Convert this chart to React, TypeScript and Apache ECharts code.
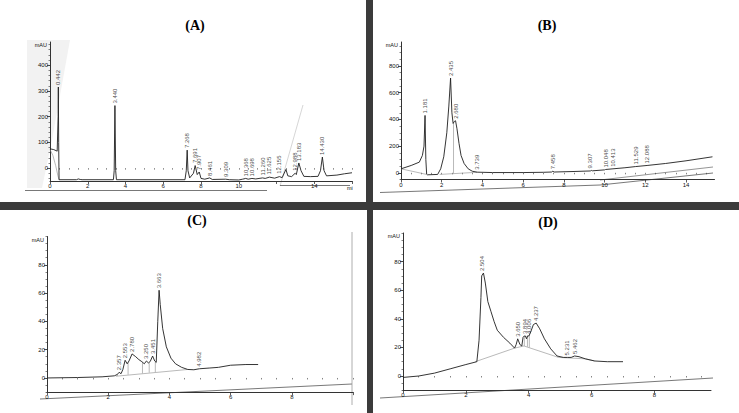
import React, { useEffect, useRef } from "react";
import * as echarts from "echarts";

// ---------------- Panel (A) ----------------
const curveA: [number, number][] = [
  [0, 75], [0.2, 72], [0.38, 66], [0.4, 65], [0.43, 200], [0.442, 315], [0.46, 100], [0.48, -45],
  [1.4, -45], [1.5, -42], [1.6, -44], [1.7, -45], [3.36, -45], [3.4, -10], [3.44, 243], [3.48, -10], [3.52, -45],
  [7.15, -45], [7.22, -10], [7.268, 70], [7.31, -10], [7.4, -38], [7.6, -20], [7.691, 10], [7.8, -25],
  [7.907, -15], [8.0, -40], [8.2, -43], [8.461, -38], [8.6, -44], [9.309, -43], [9.5, -45], [10.0, -46],
  [10.2, -43], [10.368, -40], [10.5, -43], [10.698, -40], [10.9, -42], [11.26, -38], [11.4, -40],
  [11.625, -35], [11.9, -39], [12.155, -33], [12.3, -37], [12.5, -5], [12.6, -30], [12.8, -33],
  [12.988, -20], [13.05, -25], [13.183, 20], [13.3, -10], [13.45, -32], [13.8, -33], [14.2, -32],
  [14.33, -10], [14.43, 43], [14.52, -10], [14.65, -30], [15.2, -27], [15.6, -22], [16, -18],
];
const baseA: ([number, number] | null)[] = [[0, 72], [0.15, 50], [0.3, 10], [0.42, -30], [0.48, -45]];
const peakRtA = ["0.442", "3.440", "7.268", "7.691", "7.907", "8.461", "9.309", "10.368", "10.698", "11.260", "11.625", "12.155", "12.988", "13.183", "14.430"];
const peakHA = [315, 243, 70, 12, -15, -38, -42, -40, -40, -36, -33, -30, -18, 20, 43];
const xTicksA = [0, 2, 4, 6, 8, 10, 14];
const yTicksA = [0, 100, 200, 300, 400];

// ---------------- Panel (B) ----------------
const curveB: [number, number][] = [
  [0, 30], [0.5, 55], [0.9, 80], [1.05, 130], [1.13, 200], [1.181, 430], [1.22, 100], [1.26, -10],
  [1.3, -15], [1.8, -12], [1.95, 30], [2.1, 120], [2.25, 300], [2.35, 500], [2.435, 710], [2.5, 450],
  [2.56, 370], [2.62, 385], [2.68, 390], [2.75, 330], [2.85, 220], [2.95, 130], [3.1, 70], [3.3, 30],
  [3.5, 12], [3.739, 5], [4.5, 2], [6.0, 2], [7.0, 4], [7.4, 6], [7.458, 12], [7.52, 6], [8.5, 10],
  [9.3, 14], [9.35, 18], [9.4, 15], [10.0, 22], [10.048, 25], [10.413, 30], [11, 38], [11.529, 47],
  [12.088, 55], [13, 70], [14, 90], [15.3, 120],
];
const baseB: ([number, number] | null)[] = [[0, 30], [1.26, -12], null, [1.9, -12], [3.74, 4], null, [2.58, -5], [2.58, 375]];
const peakRtB = ["1.181", "2.435", "2.680", "3.739", "7.458", "9.307", "10.048", "10.413", "11.529", "12.088"];
const peakHB = [430, 710, 390, 8, 12, 18, 24, 30, 48, 55];
const xTicksB = [0, 2, 4, 6, 8, 10, 12, 14];
const yTicksB = [0, 200, 400, 600, 800];

// ---------------- Panel (C) ----------------
const curveC: [number, number][] = [
  [0, 0], [1.0, 0.3], [1.8, 0.8], [2.2, 1.5], [2.3, 2.5], [2.357, 4], [2.42, 3], [2.48, 6], [2.553, 12.5],
  [2.62, 10], [2.68, 12], [2.78, 17], [2.9, 15], [3.0, 13], [3.1, 11.5], [3.18, 10], [3.25, 12],
  [3.32, 10.5], [3.38, 12], [3.451, 15.5], [3.52, 12], [3.57, 11], [3.62, 40], [3.663, 62], [3.7, 52],
  [3.78, 35], [3.9, 22], [4.05, 14], [4.2, 10], [4.4, 7.5], [4.6, 6], [4.8, 5.8], [4.982, 6.5],
  [5.3, 7], [5.6, 7.5], [6.0, 9], [6.5, 9.5], [6.9, 9.5],
];
const baseC: ([number, number] | null)[] = [
  [2.25, 1.2], [4.6, 6], null, [2.3, 1.4], [2.3, 2.5], null, [2.65, 2.3], [2.65, 11], null,
  [3.12, 3.3], [3.12, 11], null, [3.34, 3.8], [3.34, 10.5], null, [3.54, 4.2], [3.54, 11.5],
];
const peakRtC = ["2.357", "2.553", "2.780", "3.250", "3.451", "3.663", "4.982"];
const peakHC = [4, 12.5, 17, 12, 15.5, 62, 6.5];
const xTicksC = [0, 2, 4, 6, 8];
const yTicksC = [0, 20, 40, 60, 80];

// ---------------- Panel (D) ----------------
const curveD: [number, number][] = [
  [0, -1], [0.5, 0], [1.0, 2], [1.5, 5], [2.0, 8], [2.35, 10], [2.42, 25], [2.48, 55], [2.504, 70],
  [2.56, 72], [2.62, 65], [2.7, 52], [2.8, 45], [2.9, 38], [3.0, 32], [3.2, 27], [3.4, 23], [3.55, 19.5],
  [3.6, 22], [3.65, 26], [3.72, 22], [3.78, 21], [3.82, 27], [3.86, 28], [3.894, 28], [3.93, 26],
  [3.96, 28], [4.006, 28], [4.05, 30], [4.15, 36], [4.237, 37], [4.35, 33], [4.5, 26], [4.7, 19],
  [4.9, 14], [5.1, 13], [5.231, 13], [5.35, 13], [5.462, 14], [5.6, 13.5], [5.8, 12], [6.1, 10.5],
  [6.5, 10], [7.0, 10],
];
const baseD: ([number, number] | null)[] = [
  [2.3, 10], [3.55, 19.5], [3.85, 21], [4.95, 13], [5.8, 12], [6.1, 10.5], null,
  [3.86, 21], [3.86, 28], null, [3.96, 20.5], [3.96, 28], null, [4.02, 20], [4.02, 28.5],
];
const peakRtD = ["2.504", "3.650", "3.894", "4.006", "4.237", "5.231", "5.462"];
const peakHD = [72, 26, 28, 28, 37, 13, 14];
const xTicksD = [0, 2, 4, 6, 8];
const yTicksD = [0, 20, 40, 60, 80];

// ---------------- layout / style ----------------
const panels = [
  { title: "(A)", tx: 195, ty: 25, grid: { left: 50, top: 42, width: 302, height: 139 }, xMax: 16, yMin: -50, yMax: 490, xStep: 0.5, yStep: 20, curve: curveA, base: baseA, rt: peakRtA, h: peakHA, xt: xTicksA, yt: yTicksA },
  { title: "(B)", tx: 547, ty: 25, grid: { left: 401, top: 42, width: 313.5, height: 137.5 }, xMax: 15.4, yMin: -50, yMax: 980, xStep: 0.5, yStep: 50, curve: curveB, base: baseB, rt: peakRtB, h: peakHB, xt: xTicksB, yt: yTicksB },
  { title: "(C)", tx: 197, ty: 220, grid: { left: 47, top: 236.5, width: 306, height: 155.6 }, xMax: 10, yMin: -10, yMax: 100, xStep: 0.5, yStep: 5, curve: curveC, base: baseC, rt: peakRtC, h: peakHC, xt: xTicksC, yt: yTicksC },
  { title: "(D)", tx: 548, ty: 222, grid: { left: 403, top: 233, width: 308, height: 157.3 }, xMax: 9.8, yMin: -10, yMax: 100, xStep: 0.5, yStep: 5, curve: curveD, base: baseD, rt: peakRtD, h: peakHD, xt: xTicksD, yt: yTicksD },
];

const AX = "#333333";
const TXT = "#111111";
const FONT = "Liberation Sans";

function range(a: number, b: number, s: number) {
  const out: number[] = [];
  for (let v = a; v <= b + 1e-9; v += s) out.push(Math.round(v * 1000) / 1000);
  return out;
}

function buildOption() {
  const grid: any[] = [];
  const xAxis: any[] = [];
  const yAxis: any[] = [];
  const series: any[] = [];
  const graphic: any[] = [];

  panels.forEach((p, i) => {
    grid.push({ ...p.grid, containLabel: false, outerBoundsMode: "none" });
    const majorX = range(0, Math.floor(p.xMax / 2) * 2, 2);
    xAxis.push({
      type: "value", gridIndex: i, min: 0, max: p.xMax, position: "bottom",
      axisLine: { show: true, onZero: false, lineStyle: { color: AX, width: 1 } },
      axisTick: { show: true, customValues: majorX, length: 3, lineStyle: { color: AX, width: 0.8 } },
      axisLabel: { show: true, customValues: p.xt, fontSize: 6, margin: 2, color: TXT, fontFamily: FONT },
      splitLine: { show: false },
    });
    xAxis.push({
      type: "value", gridIndex: i, min: 0, max: p.xMax, position: "bottom",
      axisLine: { show: false },
      axisTick: { show: true, customValues: range(0, p.xMax, p.xStep), length: 1.5, lineStyle: { color: AX, width: 0.6 } },
      axisLabel: { show: false },
      splitLine: { show: false },
    });
    yAxis.push({
      type: "value", gridIndex: i, min: p.yMin, max: p.yMax, position: "left",
      name: "mAU", nameLocation: "end", nameGap: -3,
      nameTextStyle: { fontSize: 5.5, color: TXT, fontFamily: FONT, align: "right", verticalAlign: "middle", padding: [0, 3, 0, 0] },
      axisLine: { show: true, onZero: false, lineStyle: { color: AX, width: 1 } },
      axisTick: { show: true, customValues: p.yt, length: 3, lineStyle: { color: AX, width: 0.8 } },
      axisLabel: { show: true, customValues: p.yt, fontSize: 6, margin: 2, color: TXT, fontFamily: FONT },
      splitLine: { show: false },
    });
    yAxis.push({
      type: "value", gridIndex: i, min: p.yMin, max: p.yMax, position: "left",
      axisLine: { show: false },
      axisTick: { show: true, customValues: range(Math.ceil(p.yMin / p.yStep) * p.yStep, p.yMax, p.yStep), length: 1.5, lineStyle: { color: AX, width: 0.6 } },
      axisLabel: { show: false },
      splitLine: { show: false },
    });

    series.push({
      type: "line", xAxisIndex: i * 2, yAxisIndex: i * 2, data: p.curve, showSymbol: false, symbol: "none",
      lineStyle: { color: "#1e1e1e", width: 0.9 }, itemStyle: { color: "#1e1e1e" }, z: 3,
    });
    series.push({
      type: "line", xAxisIndex: i * 2, yAxisIndex: i * 2, data: p.base.map((d) => (d ? d : [null, null])), connectNulls: false,
      showSymbol: false, symbol: "none", lineStyle: { color: "#8a8a8a", width: 0.6 }, itemStyle: { color: "#8a8a8a" }, z: 2,
    });
    series.push({
      type: "scatter", xAxisIndex: i * 2, yAxisIndex: i * 2, symbol: "circle", symbolSize: 0, z: 4,
      itemStyle: { color: "#111111" },
      data: p.rt.map((r, k) => ({ name: r, value: [parseFloat(r), p.h[k]] })),
      label: {
        show: true, formatter: "{b}", position: "top", distance: 2, rotate: 90, align: "left", verticalAlign: "middle",
        fontSize: 6, color: "#111111", fontFamily: FONT,
      },
    });

    graphic.push({
      type: "text", x: p.tx, y: p.ty, z: 10,
      style: { text: p.title, font: 'bold 14px "Liberation Serif"', fill: "#000", align: "center", verticalAlign: "middle", textAlign: "center", textVerticalAlign: "middle" },
    });
  });

  // scan artefacts and frame bars
  graphic.push(
    { type: "polygon", z: -10, shape: { points: [[27, 40], [70, 40], [52, 140], [42, 188], [27, 188]] }, style: { fill: "#f2f2f2" } },
    { type: "line", shape: { x1: 303, y1: 105, x2: 280, y2: 186 }, style: { stroke: "#cccccc", lineWidth: 0.8 } },
    { type: "text", x: 347, y: 185, style: { text: "mi", fontSize: 5.5, fontFamily: FONT, fill: TXT, align: "left", verticalAlign: "top" } },
    { type: "polyline", shape: { points: [[25, 190.5], [267, 190.5]] }, style: { stroke: "#555", lineWidth: 0.8, fill: null } },
    { type: "polyline", shape: { points: [[280, 185.5], [350, 185.5]] }, style: { stroke: "#555", lineWidth: 0.8, fill: null } },
    { type: "polyline", shape: { points: [[380, 192.5], [600, 185], [713, 173]] }, style: { stroke: "#555", lineWidth: 0.8, fill: null } },
    { type: "polyline", shape: { points: [[600, 180], [713, 167]] }, style: { stroke: "#666", lineWidth: 0.7, fill: null } },
    { type: "polyline", shape: { points: [[40, 399], [352, 384]] }, style: { stroke: "#555", lineWidth: 0.8, fill: null } },
    { type: "line", shape: { x1: 352, y1: 232, x2: 352, y2: 405 }, style: { stroke: "#9a9a9a", lineWidth: 0.8 } },
    { type: "polyline", shape: { points: [[380, 398], [713, 378]] }, style: { stroke: "#555", lineWidth: 0.8, fill: null } },
    { type: "rect", z: 20, shape: { x: 366, y: 0, width: 7, height: 203 }, style: { fill: "#3b3b3b" } },
    { type: "rect", z: 20, shape: { x: 0, y: 202, width: 739, height: 8 }, style: { fill: "#3b3b3b" } },
    { type: "rect", z: 20, shape: { x: 367, y: 209, width: 6, height: 204 }, style: { fill: "#3b3b3b" } },
  );

  return {
    animation: false,
    backgroundColor: "#ffffff",
    grid, xAxis, yAxis, series, graphic,
  };
}

export default function App() {
  const ref = useRef<HTMLDivElement>(null);
  useEffect(() => {
    document.body.style.margin = "0";
    if (!ref.current) return;
    const chart = echarts.init(ref.current, undefined, { renderer: "svg" });
    chart.setOption(buildOption() as any);
    return () => chart.dispose();
  }, []);
  return <div ref={ref} style={{ width: 739, height: 413, position: "absolute", left: 0, top: 0 }} />;
}
